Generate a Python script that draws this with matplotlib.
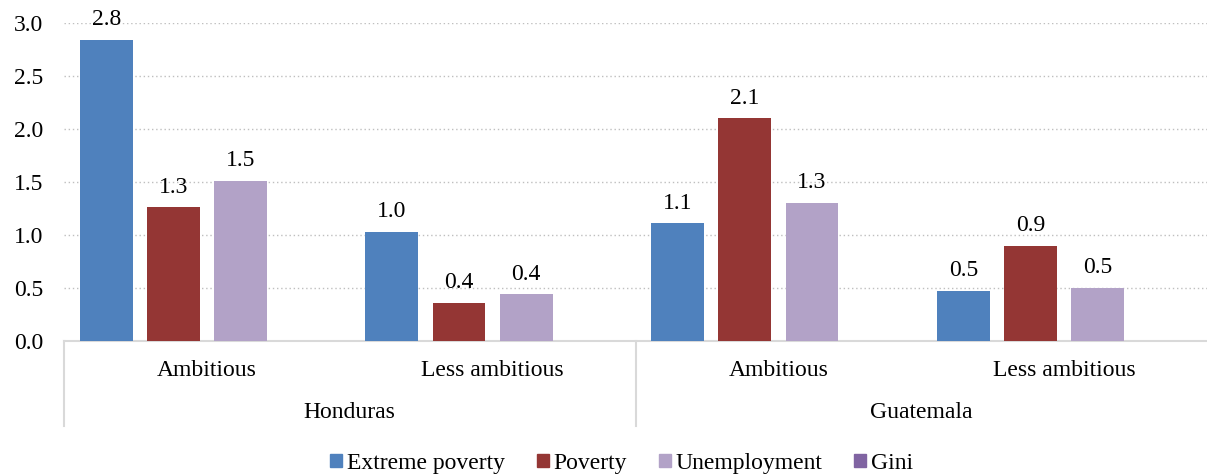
import matplotlib.pyplot as plt
import numpy as np
from matplotlib.lines import Line2D
from matplotlib.transforms import blended_transform_factory

plt.rcParams["font.family"] = ["Liberation Serif", "DejaVu Serif"]

# Data
countries = ["Honduras", "Guatemala"]
scenarios = ["Ambitious", "Less ambitious", "Ambitious", "Less ambitious"]
series = ["Extreme poverty", "Poverty", "Unemployment", "Gini"]
extreme_poverty = [2.84, 1.03, 1.11, 0.47]
poverty = [1.26, 0.36, 2.10, 0.90]
unemployment = [1.51, 0.44, 1.30, 0.50]
gini = [0.0, 0.0, 0.0, 0.0]
colors = ["#4F81BD", "#943634", "#B2A2C7", "#8064A2"]

values = [extreme_poverty, poverty, unemployment, gini]
fs = 17

fig = plt.figure(figsize=(12.07, 4.76), dpi=100)
ax = fig.add_axes([64 / 1207, 1 - 341 / 476, 1143 / 1207, 318 / 476])

x = np.arange(len(scenarios))
pitch = 0.235
width = 0.185
for i, (name, vals, c) in enumerate(zip(series, values, colors)):
    pos = x + (i - 1.5) * pitch
    ax.bar(pos, vals, width, color=c, label=name, zorder=3)
    if name == "Gini":
        continue
    for xi, v in zip(pos, vals):
        ax.annotate(f"{v:.1f}", (xi, v), xytext=(0, 7), textcoords="offset points",
                    ha="center", va="bottom", fontsize=fs)

ax.set_xlim(-0.5, len(scenarios) - 0.5)
ax.set_ylim(0, 3.0)
ax.set_yticks(np.arange(0, 3.01, 0.5))
ax.set_yticklabels([f"{t:.1f}" for t in np.arange(0, 3.01, 0.5)])
ax.tick_params(axis="y", length=0, pad=15, labelsize=fs)
ax.set_xticks([])
ax.yaxis.grid(True, linestyle=(0, (1, 2)), color="#BFBFBF", linewidth=1, zorder=0)

for s in ["left", "right", "top"]:
    ax.spines[s].set_visible(False)
ax.spines["bottom"].set_color("#D9D9D9")
ax.spines["bottom"].set_linewidth(1.5)

# Two-level category axis
trans = blended_transform_factory(ax.transData, ax.transAxes)
for xi, lab in zip(x, scenarios):
    ax.text(xi, -0.093, lab, transform=trans, ha="center", va="center", fontsize=fs)
for k, country in enumerate(countries):
    ax.text(2 * k + 0.5, -0.225, country, transform=trans, ha="center", va="center",
            fontsize=fs)
for xs in [-0.5, 1.5]:
    ax.add_line(Line2D([xs, xs], [0, -0.267], transform=trans, color="#D9D9D9",
                       linewidth=1.5, clip_on=False))

handles = [plt.Rectangle((0, 0), 1, 1, color=c) for c in colors]
fig.legend(handles, series, loc="lower center", bbox_to_anchor=(0.515, -0.04), ncol=4,
           frameon=False, fontsize=fs, handlelength=0.5, handleheight=0.5,
           handletextpad=0.2, columnspacing=1.35)

fig.savefig("out.png", dpi=100)
